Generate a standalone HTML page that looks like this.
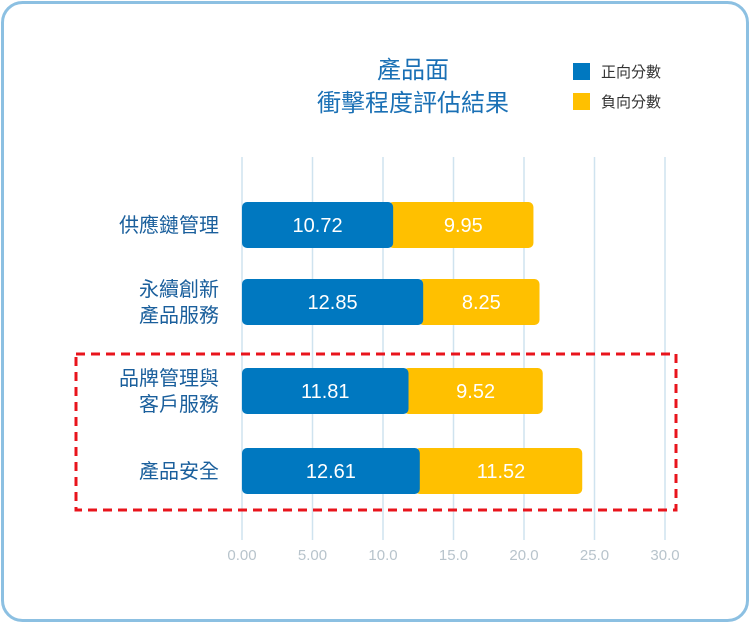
<!DOCTYPE html>
<html><head><meta charset="utf-8"><style>
body{margin:0;background:#fff;font-family:"Liberation Sans","Noto Sans CJK TC",sans-serif;}
#wrap{position:relative;width:751px;height:624px;overflow:hidden;}
</style></head><body>
<div id="wrap">
<svg id="chart" width="751" height="624" xmlns="http://www.w3.org/2000/svg">
<rect x="2.5" y="2.5" width="745" height="618" rx="20" fill="#fff" stroke="#8cc0e2" stroke-width="3"/>
<text x="413" y="78" text-anchor="middle" font-size="24" fill="#1a70b5" font-family="Liberation Sans, Noto Sans CJK TC, sans-serif">產品面</text>
<text x="413" y="111" text-anchor="middle" font-size="24" fill="#1a70b5" font-family="Liberation Sans, Noto Sans CJK TC, sans-serif">衝擊程度評估結果</text>
<rect x="573" y="63" width="17" height="17" fill="#0078c0"/>
<text x="601" y="77" font-size="15" fill="#333" font-family="Liberation Sans, Noto Sans CJK TC, sans-serif">正向分數</text>
<rect x="573" y="93" width="17" height="17" fill="#ffc000"/>
<text x="601" y="107" font-size="15" fill="#333" font-family="Liberation Sans, Noto Sans CJK TC, sans-serif">負向分數</text>
<g id="grid"></g><g id="bars"></g><g id="labels"></g>
<rect x="76" y="354" width="600" height="156" fill="none" stroke="#e8141c" stroke-width="3" stroke-dasharray="9,6"/>
</svg>
</div>
<script>
const categories=[["供應鏈管理"],["永續創新","產品服務"],["品牌管理與","客戶服務"],["產品安全"]];
const positive=[10.72,12.85,11.81,12.61];
const negative=[9.95,8.25,9.52,11.52];
const ticks=[0,5,10,15,20,25,30];
const tickLabels=["0.00","5.00","10.0","15.0","20.0","25.0","30.0"];
const NS="http://www.w3.org/2000/svg";
const x0=242,x1=665,xmax=30;
const xs=v=>x0+(x1-x0)*v/xmax;
const rowCenters=[225,302,391,471];
const bh=46;
function mk(t,a,p){const e=document.createElementNS(NS,t);for(const k in a)e.setAttribute(k,a[k]);p.appendChild(e);return e;}
const grid=document.getElementById('grid'),bars=document.getElementById('bars'),labels=document.getElementById('labels');
ticks.forEach((t,i)=>{
 const l=mk('line',{x1:xs(t),x2:xs(t),y1:157,y2:540,stroke:'#cfe3ef','stroke-width':1.5},grid);
 
 
 const tx=mk('text',{x:xs(t),y:560,'text-anchor':'middle','font-size':15,fill:'#b8c4cc'},grid);
 tx.textContent=tickLabels[i];
 
 
});
categories.forEach((c,i)=>{
 const cy=rowCenters[i],y=cy-bh/2;
 const xa=xs(0),xb=xs(positive[i]),xc=xs(positive[i]+negative[i]);
 const r2=mk('rect',{x:xb-5,y:y,width:xc-xb+5,height:bh,rx:5,fill:'#ffc000'},bars);
 
 
 const r1=mk('rect',{x:xa,y:y,width:xb-xa,height:bh,rx:5,fill:'#0078c0'},bars);
 
 
 const t1=mk('text',{x:(xa+xb)/2,y:cy+7,'text-anchor':'middle','font-size':20,fill:'#fff'},labels);
 t1.textContent=positive[i].toFixed(2);
 
 
 const t2=mk('text',{x:(xb+xc)/2,y:cy+7,'text-anchor':'middle','font-size':20,fill:'#fff'},labels);
 t2.textContent=negative[i].toFixed(2);
 
 
 c.forEach((line,j)=>{
  const yy=cy+7+(j-(c.length-1)/2)*26;
  const tl=mk('text',{x:219,y:yy,'text-anchor':'end','font-size':20,fill:'#1a5f9c'},labels);
  tl.textContent=line;
  
  
 });
});
</script>
</body></html>
